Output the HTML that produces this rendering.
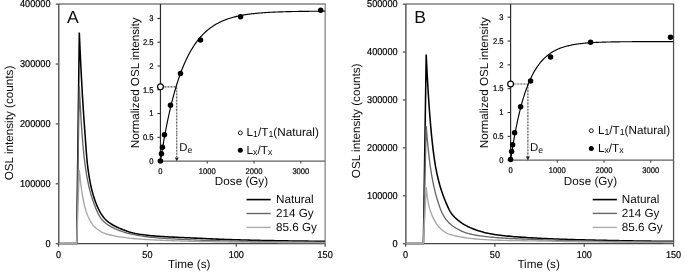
<!DOCTYPE html>
<html><head><meta charset="utf-8"><title>OSL decay curves</title>
<style>html,body{margin:0;padding:0;background:#fff}svg{display:block;text-rendering:geometricPrecision;will-change:transform;transform:translateZ(0)}</style></head>
<body><svg width="685" height="272" viewBox="0 0 685 272">
<defs><filter id="soft" x="0" y="0" width="685" height="272" filterUnits="userSpaceOnUse"><feGaussianBlur stdDeviation="0.3"/></filter></defs>
<g filter="url(#soft)">
<rect width="685" height="272" fill="#fff"/>
<path d="M58.50,4.05 H325.80" fill="none" stroke="#808080" stroke-width="1.6"/>
<path d="M325.15,4.00 V243.50" fill="none" stroke="#858585" stroke-width="1.3"/>
<path d="M58.80,4.00 V243.55 H325.15" fill="none" stroke="#444" stroke-width="1.3"/>
<path d="M55.70,243.65 H58.50" stroke="#555" stroke-width="1.3"/>
<text transform="translate(50.60,246.75) scale(1,1.09)" font-size="9.2" text-anchor="end" font-family="Liberation Sans, sans-serif" fill="#000" stroke="#000" stroke-width="0.2">0</text>
<path d="M55.70,183.78 H58.50" stroke="#555" stroke-width="1.3"/>
<text transform="translate(50.60,186.88) scale(1,1.09)" font-size="9.2" text-anchor="end" font-family="Liberation Sans, sans-serif" fill="#000" stroke="#000" stroke-width="0.2">100000</text>
<path d="M55.70,123.90 H58.50" stroke="#555" stroke-width="1.3"/>
<text transform="translate(50.60,127.00) scale(1,1.09)" font-size="9.2" text-anchor="end" font-family="Liberation Sans, sans-serif" fill="#000" stroke="#000" stroke-width="0.2">200000</text>
<path d="M55.70,64.03 H58.50" stroke="#555" stroke-width="1.3"/>
<text transform="translate(50.60,67.12) scale(1,1.09)" font-size="9.2" text-anchor="end" font-family="Liberation Sans, sans-serif" fill="#000" stroke="#000" stroke-width="0.2">300000</text>
<path d="M55.70,4.15 H58.50" stroke="#555" stroke-width="1.3"/>
<text transform="translate(50.60,7.25) scale(1,1.09)" font-size="9.2" text-anchor="end" font-family="Liberation Sans, sans-serif" fill="#000" stroke="#000" stroke-width="0.2">400000</text>
<path d="M58.50,243.50 V246.70" stroke="#555" stroke-width="1.3"/>
<text transform="translate(58.50,258.00) scale(1,1.09)" font-size="9.1" text-anchor="middle" font-family="Liberation Sans, sans-serif" fill="#000" stroke="#000" stroke-width="0.2">0</text>
<path d="M147.38,243.50 V246.70" stroke="#555" stroke-width="1.3"/>
<text transform="translate(147.38,258.00) scale(1,1.09)" font-size="9.1" text-anchor="middle" font-family="Liberation Sans, sans-serif" fill="#000" stroke="#000" stroke-width="0.2">50</text>
<path d="M236.27,243.50 V246.70" stroke="#555" stroke-width="1.3"/>
<text transform="translate(236.27,258.00) scale(1,1.09)" font-size="9.1" text-anchor="middle" font-family="Liberation Sans, sans-serif" fill="#000" stroke="#000" stroke-width="0.2">100</text>
<path d="M325.15,243.50 V246.70" stroke="#555" stroke-width="1.3"/>
<text transform="translate(325.15,258.00) scale(1,1.09)" font-size="9.1" text-anchor="middle" font-family="Liberation Sans, sans-serif" fill="#000" stroke="#000" stroke-width="0.2">150</text>
<path d="M58.70,243.40 L76.70,243.40 L79.30,32.50 L79.80,43.98 L80.30,54.89 L80.80,65.24 L81.30,75.08 L81.80,84.41 L82.30,93.25 L82.80,101.64 L83.30,109.49 L83.80,116.91 L84.30,124.01 L84.80,130.92 L85.30,137.76 L85.80,144.87 L86.30,151.80 L86.80,158.04 L87.30,163.26 L87.80,167.38 L88.30,171.07 L88.80,174.45 L89.30,177.55 L89.80,180.40 L90.30,183.03 L90.80,185.47 L91.30,187.73 L91.80,189.84 L92.30,191.81 L92.80,193.65 L93.30,195.38 L93.80,197.01 L94.30,198.55 L94.80,200.01 L95.30,201.40 L95.80,202.74 L96.30,204.01 L96.80,205.24 L97.30,206.42 L97.80,207.55 L98.30,208.63 L98.80,209.65 L99.30,210.64 L99.80,211.57 L100.30,212.47 L100.80,213.32 L101.30,214.13 L101.80,214.90 L102.30,215.63 L102.80,216.33 L103.30,216.99 L103.80,217.62 L104.30,218.21 L104.80,218.77 L105.30,219.30 L105.80,219.80 L106.30,220.27 L106.80,220.72 L107.30,221.16 L107.80,221.57 L108.30,221.97 L108.80,222.35 L109.30,222.71 L111.30,224.04 L113.30,225.21 L115.30,226.26 L117.30,227.24 L119.30,228.16 L121.30,229.02 L123.30,229.83 L125.30,230.58 L127.30,231.27 L129.30,231.91 L131.30,232.48 L133.30,233.00 L135.30,233.47 L137.30,233.88 L139.30,234.24 L141.30,234.55 L143.30,234.83 L145.30,235.07 L147.30,235.30 L149.30,235.50 L151.30,235.69 L153.30,235.86 L155.30,236.02 L157.30,236.17 L159.30,236.31 L161.30,236.45 L163.30,236.57 L165.30,236.69 L167.30,236.80 L169.30,236.91 L171.30,237.02 L173.30,237.11 L175.30,237.21 L177.30,237.30 L179.30,237.40 L181.30,237.49 L183.30,237.58 L185.30,237.66 L187.30,237.75 L189.30,237.84 L191.30,237.93 L193.30,238.02 L195.30,238.11 L197.30,238.21 L199.30,238.30 L201.30,238.39 L203.30,238.49 L205.30,238.58 L207.30,238.67 L209.30,238.77 L211.30,238.86 L213.30,238.94 L215.30,239.03 L217.30,239.12 L219.30,239.20 L221.30,239.28 L223.30,239.36 L225.30,239.43 L227.30,239.51 L229.30,239.58 L231.30,239.64 L233.30,239.71 L235.30,239.77 L237.30,239.83 L239.30,239.88 L241.30,239.93 L243.30,239.98 L245.30,240.03 L247.30,240.08 L249.30,240.13 L251.30,240.18 L253.30,240.22 L255.30,240.27 L257.30,240.31 L259.30,240.35 L261.30,240.40 L263.30,240.44 L265.30,240.48 L267.30,240.52 L269.30,240.56 L271.30,240.59 L273.30,240.63 L275.30,240.67 L277.30,240.70 L279.30,240.74 L281.30,240.77 L283.30,240.80 L285.30,240.83 L287.30,240.86 L289.30,240.90 L291.30,240.92 L293.30,240.95 L295.30,240.98 L297.30,241.01 L299.30,241.03 L301.30,241.06 L303.30,241.08 L305.30,241.11 L307.30,241.13 L309.30,241.15 L311.30,241.17 L313.30,241.19 L315.30,241.21 L317.30,241.23 L319.30,241.25 L321.30,241.27 L323.30,241.28 L325.15,241.30" fill="none" stroke="#000000" stroke-width="1.55" stroke-linejoin="miter" stroke-miterlimit="10"/>
<path d="M58.70,243.40 L76.70,243.40 L79.30,86.50 L79.80,96.78 L80.30,106.26 L80.80,114.99 L81.30,123.01 L81.80,130.36 L82.30,137.09 L82.80,143.24 L83.30,148.84 L83.80,153.93 L84.30,158.54 L84.80,162.70 L85.30,166.46 L85.80,169.90 L86.30,173.09 L86.80,176.05 L87.30,178.80 L87.80,181.36 L88.30,183.76 L88.80,186.01 L89.30,188.13 L89.80,190.13 L90.30,192.02 L90.80,193.81 L91.30,195.52 L91.80,197.16 L92.30,198.73 L92.80,200.24 L93.30,201.69 L93.80,203.10 L94.30,204.46 L94.80,205.79 L95.30,207.09 L95.80,208.34 L96.30,209.56 L96.80,210.72 L97.30,211.84 L97.80,212.90 L98.30,213.92 L98.80,214.87 L99.30,215.78 L99.80,216.63 L100.30,217.42 L100.80,218.16 L101.30,218.84 L101.80,219.47 L102.30,220.04 L102.80,220.58 L103.30,221.09 L103.80,221.58 L104.30,222.04 L104.80,222.48 L105.30,222.90 L105.80,223.30 L106.30,223.68 L106.80,224.05 L107.30,224.40 L107.80,224.74 L108.30,225.07 L108.80,225.39 L109.30,225.69 L111.30,226.84 L113.30,227.88 L115.30,228.84 L117.30,229.70 L119.30,230.50 L121.30,231.22 L123.30,231.88 L125.30,232.49 L127.30,233.05 L129.30,233.56 L131.30,234.03 L133.30,234.46 L135.30,234.87 L137.30,235.24 L139.30,235.60 L141.30,235.93 L143.30,236.23 L145.30,236.52 L147.30,236.78 L149.30,237.02 L151.30,237.24 L153.30,237.44 L155.30,237.63 L157.30,237.80 L159.30,237.96 L161.30,238.12 L163.30,238.27 L165.30,238.41 L167.30,238.55 L169.30,238.68 L171.30,238.81 L173.30,238.93 L175.30,239.05 L177.30,239.16 L179.30,239.27 L181.30,239.38 L183.30,239.48 L185.30,239.57 L187.30,239.67 L189.30,239.75 L191.30,239.84 L193.30,239.92 L195.30,240.00 L197.30,240.08 L199.30,240.16 L201.30,240.23 L203.30,240.30 L205.30,240.36 L207.30,240.43 L209.30,240.49 L211.30,240.55 L213.30,240.60 L215.30,240.66 L217.30,240.71 L219.30,240.76 L221.30,240.81 L223.30,240.86 L225.30,240.91 L227.30,240.95 L229.30,240.99 L231.30,241.04 L233.30,241.08 L235.30,241.11 L237.30,241.15 L239.30,241.19 L241.30,241.22 L243.30,241.26 L245.30,241.29 L247.30,241.32 L249.30,241.35 L251.30,241.39 L253.30,241.42 L255.30,241.45 L257.30,241.48 L259.30,241.51 L261.30,241.53 L263.30,241.56 L265.30,241.59 L267.30,241.61 L269.30,241.64 L271.30,241.66 L273.30,241.69 L275.30,241.71 L277.30,241.73 L279.30,241.76 L281.30,241.78 L283.30,241.80 L285.30,241.82 L287.30,241.84 L289.30,241.86 L291.30,241.88 L293.30,241.90 L295.30,241.91 L297.30,241.93 L299.30,241.95 L301.30,241.96 L303.30,241.98 L305.30,241.99 L307.30,242.00 L309.30,242.02 L311.30,242.03 L313.30,242.04 L315.30,242.05 L317.30,242.06 L319.30,242.07 L321.30,242.08 L323.30,242.09 L325.15,242.10" fill="none" stroke="#666666" stroke-width="1.35" stroke-linejoin="miter" stroke-miterlimit="10"/>
<path d="M58.70,243.40 L76.70,243.40 L79.30,170.10 L79.80,175.13 L80.30,179.72 L80.80,183.91 L81.30,187.74 L81.80,191.23 L82.30,194.42 L82.80,197.32 L83.30,199.97 L83.80,202.39 L84.30,204.58 L84.80,206.59 L85.30,208.44 L85.80,210.15 L86.30,211.72 L86.80,213.18 L87.30,214.54 L87.80,215.80 L88.30,216.98 L88.80,218.08 L89.30,219.11 L89.80,220.08 L90.30,221.00 L90.80,221.87 L91.30,222.69 L91.80,223.47 L92.30,224.19 L92.80,224.87 L93.30,225.49 L93.80,226.07 L94.30,226.61 L94.80,227.09 L95.30,227.55 L95.80,227.99 L96.30,228.42 L96.80,228.82 L97.30,229.21 L97.80,229.58 L98.30,229.94 L98.80,230.28 L99.30,230.61 L99.80,230.92 L100.30,231.22 L100.80,231.51 L101.30,231.79 L101.80,232.05 L102.30,232.30 L102.80,232.54 L103.30,232.77 L103.80,232.99 L104.30,233.19 L104.80,233.39 L105.30,233.58 L105.80,233.75 L106.30,233.92 L106.80,234.08 L107.30,234.23 L107.80,234.37 L108.30,234.51 L108.80,234.64 L109.30,234.77 L111.30,235.25 L113.30,235.69 L115.30,236.10 L117.30,236.47 L119.30,236.80 L121.30,237.11 L123.30,237.40 L125.30,237.66 L127.30,237.90 L129.30,238.13 L131.30,238.34 L133.30,238.53 L135.30,238.71 L137.30,238.88 L139.30,239.04 L141.30,239.19 L143.30,239.33 L145.30,239.46 L147.30,239.58 L149.30,239.70 L151.30,239.81 L153.30,239.91 L155.30,240.01 L157.30,240.11 L159.30,240.20 L161.30,240.29 L163.30,240.38 L165.30,240.46 L167.30,240.54 L169.30,240.62 L171.30,240.69 L173.30,240.76 L175.30,240.83 L177.30,240.89 L179.30,240.95 L181.30,241.01 L183.30,241.07 L185.30,241.13 L187.30,241.18 L189.30,241.23 L191.30,241.28 L193.30,241.33 L195.30,241.38 L197.30,241.42 L199.30,241.47 L201.30,241.51 L203.30,241.55 L205.30,241.59 L207.30,241.63 L209.30,241.66 L211.30,241.70 L213.30,241.73 L215.30,241.76 L217.30,241.80 L219.30,241.83 L221.30,241.86 L223.30,241.89 L225.30,241.92 L227.30,241.94 L229.30,241.97 L231.30,242.00 L233.30,242.02 L235.30,242.05 L237.30,242.07 L239.30,242.09 L241.30,242.11 L243.30,242.14 L245.30,242.16 L247.30,242.18 L249.30,242.20 L251.30,242.22 L253.30,242.24 L255.30,242.26 L257.30,242.28 L259.30,242.30 L261.30,242.32 L263.30,242.33 L265.30,242.35 L267.30,242.37 L269.30,242.38 L271.30,242.40 L273.30,242.42 L275.30,242.43 L277.30,242.45 L279.30,242.46 L281.30,242.48 L283.30,242.49 L285.30,242.50 L287.30,242.52 L289.30,242.53 L291.30,242.54 L293.30,242.55 L295.30,242.57 L297.30,242.58 L299.30,242.59 L301.30,242.60 L303.30,242.61 L305.30,242.62 L307.30,242.63 L309.30,242.64 L311.30,242.65 L313.30,242.66 L315.30,242.66 L317.30,242.67 L319.30,242.68 L321.30,242.69 L323.30,242.69 L325.15,242.70" fill="none" stroke="#a6a6a6" stroke-width="1.35" stroke-linejoin="miter" stroke-miterlimit="10"/>
<text x="189.20" y="268.00" font-size="11.7" text-anchor="middle" font-family="Liberation Sans, sans-serif" fill="#0a0a0a">Time (s)</text>
<text transform="translate(12.60,123.00) rotate(-90)" font-size="11.7" text-anchor="middle" font-family="Liberation Sans, sans-serif" fill="#0a0a0a">OSL intensity (counts)</text>
<text x="72.90" y="23.30" font-size="17.6" text-anchor="middle" font-family="Liberation Sans, sans-serif" fill="#0a0a0a">A</text>
<path d="M246.50,199.60 H270.70" stroke="#000" stroke-width="1.6"/>
<text x="276.00" y="202.70" font-size="11.7" font-family="Liberation Sans, sans-serif" fill="#0a0a0a">Natural</text>
<path d="M246.50,213.50 H270.70" stroke="#666" stroke-width="1.4"/>
<text x="276.00" y="216.60" font-size="11.7" font-family="Liberation Sans, sans-serif" fill="#0a0a0a">214 Gy</text>
<path d="M246.50,227.40 H270.70" stroke="#aaa" stroke-width="1.4"/>
<text x="276.00" y="230.50" font-size="11.7" font-family="Liberation Sans, sans-serif" fill="#0a0a0a">85.6 Gy</text>
<path d="M160.45,4.00 V161.10" stroke="#2a2a2a" stroke-width="1.2"/>
<path d="M160.45,161.10 H325.15" stroke="#606060" stroke-width="1.3"/>
<path d="M157.45,161.10 H160.45" stroke="#2a2a2a" stroke-width="1.05"/>
<text transform="translate(153.45,163.85) scale(1,1.09)" font-size="7.6" text-anchor="end" font-family="Liberation Sans, sans-serif" fill="#000" stroke="#000" stroke-width="0.2">0</text>
<path d="M157.45,137.32 H160.45" stroke="#2a2a2a" stroke-width="1.05"/>
<text transform="translate(153.45,140.07) scale(1,1.09)" font-size="7.6" text-anchor="end" font-family="Liberation Sans, sans-serif" fill="#000" stroke="#000" stroke-width="0.2">0.5</text>
<path d="M157.45,113.55 H160.45" stroke="#2a2a2a" stroke-width="1.05"/>
<text transform="translate(153.45,116.30) scale(1,1.09)" font-size="7.6" text-anchor="end" font-family="Liberation Sans, sans-serif" fill="#000" stroke="#000" stroke-width="0.2">1</text>
<path d="M157.45,89.78 H160.45" stroke="#2a2a2a" stroke-width="1.05"/>
<text transform="translate(153.45,92.53) scale(1,1.09)" font-size="7.6" text-anchor="end" font-family="Liberation Sans, sans-serif" fill="#000" stroke="#000" stroke-width="0.2">1.5</text>
<path d="M157.45,66.00 H160.45" stroke="#2a2a2a" stroke-width="1.05"/>
<text transform="translate(153.45,68.75) scale(1,1.09)" font-size="7.6" text-anchor="end" font-family="Liberation Sans, sans-serif" fill="#000" stroke="#000" stroke-width="0.2">2</text>
<path d="M157.45,42.22 H160.45" stroke="#2a2a2a" stroke-width="1.05"/>
<text transform="translate(153.45,44.97) scale(1,1.09)" font-size="7.6" text-anchor="end" font-family="Liberation Sans, sans-serif" fill="#000" stroke="#000" stroke-width="0.2">2.5</text>
<path d="M157.45,18.45 H160.45" stroke="#2a2a2a" stroke-width="1.05"/>
<text transform="translate(153.45,21.20) scale(1,1.09)" font-size="7.6" text-anchor="end" font-family="Liberation Sans, sans-serif" fill="#000" stroke="#000" stroke-width="0.2">3</text>
<text transform="translate(160.45,173.55) scale(1,1.09)" font-size="7.6" text-anchor="middle" font-family="Liberation Sans, sans-serif" fill="#000" stroke="#000" stroke-width="0.2">0</text>
<path d="M207.25,161.10 V163.60" stroke="#444" stroke-width="1.1"/>
<text transform="translate(207.25,173.55) scale(1,1.09)" font-size="7.6" text-anchor="middle" font-family="Liberation Sans, sans-serif" fill="#000" stroke="#000" stroke-width="0.2">1000</text>
<path d="M254.05,161.10 V163.60" stroke="#444" stroke-width="1.1"/>
<text transform="translate(254.05,173.55) scale(1,1.09)" font-size="7.6" text-anchor="middle" font-family="Liberation Sans, sans-serif" fill="#000" stroke="#000" stroke-width="0.2">2000</text>
<path d="M300.85,161.10 V163.60" stroke="#444" stroke-width="1.1"/>
<text transform="translate(300.85,173.55) scale(1,1.09)" font-size="7.6" text-anchor="middle" font-family="Liberation Sans, sans-serif" fill="#000" stroke="#000" stroke-width="0.2">3000</text>
<path d="M160.45,161.10 L161.28,155.76 L162.11,150.61 L162.93,145.65 L163.76,140.86 L164.59,136.24 L165.42,131.78 L166.24,127.49 L167.07,123.34 L167.90,119.35 L168.73,115.50 L169.55,111.78 L170.38,108.20 L171.21,104.74 L172.04,101.41 L172.86,98.19 L173.69,95.09 L174.52,92.10 L175.35,89.22 L176.18,86.44 L177.00,83.75 L177.83,81.17 L178.66,78.67 L179.49,76.27 L180.31,73.95 L181.14,71.71 L181.97,69.55 L182.80,67.47 L183.62,65.46 L184.45,63.53 L185.28,61.66 L186.11,59.86 L186.93,58.13 L187.76,56.45 L188.59,54.84 L189.42,53.28 L190.24,51.78 L191.07,50.33 L191.90,48.93 L192.73,47.58 L193.56,46.29 L194.38,45.03 L195.21,43.82 L196.04,42.66 L196.87,41.54 L197.69,40.45 L198.52,39.41 L199.35,38.40 L200.18,37.43 L201.00,36.49 L201.83,35.58 L202.66,34.71 L203.49,33.87 L204.31,33.06 L205.14,32.28 L205.97,31.52 L206.80,30.80 L207.63,30.09 L208.45,29.42 L209.28,28.76 L210.11,28.13 L210.94,27.53 L211.76,26.94 L212.59,26.38 L213.42,25.83 L214.25,25.31 L215.07,24.80 L215.90,24.31 L216.73,23.84 L217.56,23.39 L218.38,22.95 L219.21,22.53 L220.04,22.12 L220.87,21.73 L221.70,21.35 L222.52,20.98 L223.35,20.63 L224.18,20.29 L225.01,19.96 L225.83,19.65 L226.66,19.34 L227.49,19.05 L228.32,18.76 L229.14,18.49 L229.97,18.23 L230.80,17.97 L231.63,17.73 L232.45,17.49 L233.28,17.26 L234.11,17.04 L234.94,16.83 L235.77,16.63 L236.59,16.43 L237.42,16.24 L238.25,16.05 L239.08,15.88 L239.90,15.71 L240.73,15.54 L241.56,15.38 L242.39,15.23 L243.21,15.08 L244.04,14.94 L244.87,14.80 L245.70,14.67 L246.52,14.54 L247.35,14.42 L248.18,14.30 L249.01,14.19 L249.83,14.07 L250.66,13.97 L251.49,13.87 L252.32,13.77 L253.15,13.67 L253.97,13.58 L254.80,13.49 L255.63,13.40 L256.46,13.32 L257.28,13.24 L258.11,13.16 L258.94,13.09 L259.77,13.02 L260.59,12.95 L261.42,12.88 L262.25,12.82 L263.08,12.76 L263.90,12.70 L264.73,12.64 L265.56,12.58 L266.39,12.53 L267.22,12.48 L268.04,12.43 L268.87,12.38 L269.70,12.33 L270.53,12.29 L271.35,12.25 L272.18,12.21 L273.01,12.17 L273.84,12.13 L274.66,12.09 L275.49,12.05 L276.32,12.02 L277.15,11.99 L277.97,11.95 L278.80,11.92 L279.63,11.89 L280.46,11.86 L281.29,11.84 L282.11,11.81 L282.94,11.78 L283.77,11.76 L284.60,11.73 L285.42,11.71 L286.25,11.69 L287.08,11.67 L287.91,11.65 L288.73,11.63 L289.56,11.61 L290.39,11.59 L291.22,11.57 L292.04,11.55 L292.87,11.53 L293.70,11.52 L294.53,11.50 L295.36,11.49 L296.18,11.47 L297.01,11.46 L297.84,11.45 L298.67,11.43 L299.49,11.42 L300.32,11.41 L301.15,11.40 L301.98,11.39 L302.80,11.37 L303.63,11.36 L304.46,11.35 L305.29,11.34 L306.11,11.33 L306.94,11.33 L307.77,11.32 L308.60,11.31 L309.42,11.30 L310.25,11.29 L311.08,11.28 L311.91,11.28 L312.74,11.27 L313.56,11.26 L314.39,11.26 L315.22,11.25 L316.05,11.24 L316.87,11.24 L317.70,11.23 L318.53,11.23 L319.36,11.22 L320.18,11.22 L321.01,11.21 L321.84,11.21 L322.67,11.20 L323.49,11.20 L324.32,11.19 L325.15,11.19" fill="none" stroke="#000" stroke-width="1.15"/>
<path d="M163.75,86.83 H176.76" stroke="#111" stroke-width="1.1" stroke-dasharray="0.75,0.72"/>
<path d="M176.76,86.83 V157.60" stroke="#111" stroke-width="1.1" stroke-dasharray="0.75,0.72"/>
<path d="M176.76,161.30 l-2.0,-3.8 h4.0 z" fill="#222"/>
<circle cx="160.45" cy="161.10" r="2.75" fill="#000"/>
<circle cx="161.45" cy="153.73" r="2.75" fill="#000"/>
<circle cx="162.45" cy="147.31" r="2.75" fill="#000"/>
<circle cx="164.46" cy="134.71" r="2.75" fill="#000"/>
<circle cx="170.47" cy="105.23" r="2.75" fill="#000"/>
<circle cx="180.48" cy="73.61" r="2.75" fill="#000"/>
<circle cx="200.51" cy="40.09" r="2.75" fill="#000"/>
<circle cx="240.57" cy="16.79" r="2.75" fill="#000"/>
<circle cx="320.69" cy="10.37" r="2.75" fill="#000"/>
<circle cx="160.45" cy="86.83" r="2.9" fill="#fff" stroke="#000" stroke-width="1.2"/>
<text x="179.20" y="151.30" font-size="11.4" font-family="Liberation Sans, sans-serif" fill="#0a0a0a">D<tspan font-size="8.8" dy="1.3">e</tspan></text>
<text x="241.50" y="185.20" font-size="11.7" text-anchor="middle" font-family="Liberation Sans, sans-serif" fill="#0a0a0a">Dose (Gy)</text>
<text transform="translate(138.60,82.80) rotate(-90)" font-size="11.65" text-anchor="middle" font-family="Liberation Sans, sans-serif" fill="#0a0a0a">Normalized OSL intensity</text>
<circle cx="240.30" cy="132.90" r="1.95" fill="#fff" stroke="#000" stroke-width="0.9"/>
<circle cx="240.30" cy="150.30" r="2.5" fill="#000"/>
<text x="246.60" y="136.40" font-size="11.7" font-family="Liberation Sans, sans-serif" fill="#0a0a0a">L<tspan font-size="8.8" dy="0.9">1</tspan><tspan dy="-0.9">/T</tspan><tspan font-size="8.8" dy="0.9">1</tspan><tspan dy="-0.9">(Natural)</tspan></text>
<text x="246.60" y="154.30" font-size="11.7" font-family="Liberation Sans, sans-serif" fill="#0a0a0a">L<tspan font-size="8.8" dy="0.9">x</tspan><tspan dy="-0.9">/T</tspan><tspan font-size="8.8" dy="0.9">x</tspan></text>
<path d="M405.60,4.05 H674.20" fill="none" stroke="#808080" stroke-width="1.6"/>
<path d="M673.55,4.00 V243.50" fill="none" stroke="#555" stroke-width="1.3"/>
<path d="M405.90,4.00 V243.55 H673.55" fill="none" stroke="#444" stroke-width="1.3"/>
<path d="M402.80,243.65 H405.60" stroke="#555" stroke-width="1.3"/>
<text transform="translate(397.70,246.75) scale(1,1.09)" font-size="9.2" text-anchor="end" font-family="Liberation Sans, sans-serif" fill="#000" stroke="#000" stroke-width="0.2">0</text>
<path d="M402.80,195.75 H405.60" stroke="#555" stroke-width="1.3"/>
<text transform="translate(397.70,198.85) scale(1,1.09)" font-size="9.2" text-anchor="end" font-family="Liberation Sans, sans-serif" fill="#000" stroke="#000" stroke-width="0.2">100000</text>
<path d="M402.80,147.85 H405.60" stroke="#555" stroke-width="1.3"/>
<text transform="translate(397.70,150.95) scale(1,1.09)" font-size="9.2" text-anchor="end" font-family="Liberation Sans, sans-serif" fill="#000" stroke="#000" stroke-width="0.2">200000</text>
<path d="M402.80,99.95 H405.60" stroke="#555" stroke-width="1.3"/>
<text transform="translate(397.70,103.05) scale(1,1.09)" font-size="9.2" text-anchor="end" font-family="Liberation Sans, sans-serif" fill="#000" stroke="#000" stroke-width="0.2">300000</text>
<path d="M402.80,52.05 H405.60" stroke="#555" stroke-width="1.3"/>
<text transform="translate(397.70,55.15) scale(1,1.09)" font-size="9.2" text-anchor="end" font-family="Liberation Sans, sans-serif" fill="#000" stroke="#000" stroke-width="0.2">400000</text>
<path d="M402.80,4.15 H405.60" stroke="#555" stroke-width="1.3"/>
<text transform="translate(397.70,7.25) scale(1,1.09)" font-size="9.2" text-anchor="end" font-family="Liberation Sans, sans-serif" fill="#000" stroke="#000" stroke-width="0.2">500000</text>
<path d="M405.60,243.50 V246.70" stroke="#555" stroke-width="1.3"/>
<text transform="translate(405.60,258.00) scale(1,1.09)" font-size="9.1" text-anchor="middle" font-family="Liberation Sans, sans-serif" fill="#000" stroke="#000" stroke-width="0.2">0</text>
<path d="M494.92,243.50 V246.70" stroke="#555" stroke-width="1.3"/>
<text transform="translate(494.92,258.00) scale(1,1.09)" font-size="9.1" text-anchor="middle" font-family="Liberation Sans, sans-serif" fill="#000" stroke="#000" stroke-width="0.2">50</text>
<path d="M584.23,243.50 V246.70" stroke="#555" stroke-width="1.3"/>
<text transform="translate(584.23,258.00) scale(1,1.09)" font-size="9.1" text-anchor="middle" font-family="Liberation Sans, sans-serif" fill="#000" stroke="#000" stroke-width="0.2">100</text>
<path d="M673.55,243.50 V246.70" stroke="#555" stroke-width="1.3"/>
<text transform="translate(673.55,258.00) scale(1,1.09)" font-size="9.1" text-anchor="middle" font-family="Liberation Sans, sans-serif" fill="#000" stroke="#000" stroke-width="0.2">150</text>
<path d="M405.40,243.40 L423.40,243.40 L426.20,54.60 L426.70,65.06 L427.20,74.79 L427.70,83.83 L428.20,92.23 L428.70,100.04 L429.20,107.30 L429.70,114.05 L430.20,120.31 L430.70,126.13 L431.20,131.60 L431.70,136.76 L432.20,141.61 L432.70,146.15 L433.20,150.39 L433.70,154.33 L434.20,157.97 L434.70,161.33 L435.20,164.42 L435.70,167.26 L436.20,169.92 L436.70,172.43 L437.20,174.79 L437.70,177.03 L438.20,179.14 L438.70,181.15 L439.20,183.05 L439.70,184.87 L440.20,186.60 L440.70,188.26 L441.20,189.85 L441.70,191.38 L442.20,192.85 L442.70,194.27 L443.20,195.65 L443.70,196.98 L444.20,198.28 L444.70,199.54 L445.20,200.77 L445.70,201.98 L446.20,203.16 L446.70,204.32 L447.20,205.45 L447.70,206.58 L448.20,207.69 L448.70,208.76 L449.20,209.78 L449.70,210.73 L450.20,211.61 L450.70,212.40 L451.20,213.12 L451.70,213.81 L452.20,214.45 L452.70,215.06 L453.20,215.65 L453.70,216.20 L454.20,216.73 L454.70,217.24 L455.20,217.72 L455.70,218.19 L456.20,218.65 L458.20,220.37 L460.20,221.92 L462.20,223.31 L464.20,224.56 L466.20,225.68 L468.20,226.68 L470.20,227.59 L472.20,228.43 L474.20,229.22 L476.20,229.96 L478.20,230.65 L480.20,231.28 L482.20,231.87 L484.20,232.40 L486.20,232.89 L488.20,233.34 L490.20,233.74 L492.20,234.10 L494.20,234.42 L496.20,234.71 L498.20,234.98 L500.20,235.23 L502.20,235.47 L504.20,235.70 L506.20,235.91 L508.20,236.11 L510.20,236.30 L512.20,236.48 L514.20,236.65 L516.20,236.82 L518.20,236.97 L520.20,237.12 L522.20,237.26 L524.20,237.39 L526.20,237.52 L528.20,237.65 L530.20,237.77 L532.20,237.88 L534.20,237.99 L536.20,238.10 L538.20,238.21 L540.20,238.31 L542.20,238.41 L544.20,238.50 L546.20,238.60 L548.20,238.69 L550.20,238.77 L552.20,238.85 L554.20,238.93 L556.20,239.01 L558.20,239.09 L560.20,239.16 L562.20,239.23 L564.20,239.30 L566.20,239.36 L568.20,239.43 L570.20,239.49 L572.20,239.55 L574.20,239.61 L576.20,239.66 L578.20,239.72 L580.20,239.77 L582.20,239.83 L584.20,239.88 L586.20,239.93 L588.20,239.98 L590.20,240.03 L592.20,240.08 L594.20,240.12 L596.20,240.17 L598.20,240.22 L600.20,240.26 L602.20,240.30 L604.20,240.35 L606.20,240.39 L608.20,240.43 L610.20,240.47 L612.20,240.51 L614.20,240.55 L616.20,240.59 L618.20,240.63 L620.20,240.66 L622.20,240.70 L624.20,240.74 L626.20,240.77 L628.20,240.80 L630.20,240.84 L632.20,240.87 L634.20,240.90 L636.20,240.93 L638.20,240.96 L640.20,240.99 L642.20,241.02 L644.20,241.05 L646.20,241.08 L648.20,241.11 L650.20,241.13 L652.20,241.16 L654.20,241.18 L656.20,241.21 L658.20,241.23 L660.20,241.26 L662.20,241.28 L664.20,241.30 L666.20,241.32 L668.20,241.35 L670.20,241.37 L672.20,241.39 L673.55,241.40" fill="none" stroke="#000000" stroke-width="1.55" stroke-linejoin="miter" stroke-miterlimit="10"/>
<path d="M405.40,243.40 L423.40,243.40 L426.20,126.00 L426.70,132.30 L427.20,138.20 L427.70,143.71 L428.20,148.83 L428.70,153.58 L429.20,157.97 L429.70,162.01 L430.20,165.72 L430.70,169.15 L431.20,172.36 L431.70,175.36 L432.20,178.19 L432.70,180.84 L433.20,183.35 L433.70,185.72 L434.20,187.96 L434.70,190.10 L435.20,192.13 L435.70,194.06 L436.20,195.91 L436.70,197.68 L437.20,199.38 L437.70,201.01 L438.20,202.59 L438.70,204.11 L439.20,205.58 L439.70,207.00 L440.20,208.36 L440.70,209.65 L441.20,210.85 L441.70,211.98 L442.20,213.02 L442.70,214.00 L443.20,214.94 L443.70,215.83 L444.20,216.67 L444.70,217.46 L445.20,218.21 L445.70,218.91 L446.20,219.57 L446.70,220.20 L447.20,220.79 L447.70,221.36 L448.20,221.91 L448.70,222.43 L449.20,222.94 L449.70,223.42 L450.20,223.88 L450.70,224.32 L451.20,224.75 L451.70,225.16 L452.20,225.55 L452.70,225.92 L453.20,226.29 L453.70,226.63 L454.20,226.97 L454.70,227.29 L455.20,227.61 L455.70,227.92 L456.20,228.22 L458.20,229.35 L460.20,230.37 L462.20,231.28 L464.20,232.09 L466.20,232.81 L468.20,233.44 L470.20,233.98 L472.20,234.44 L474.20,234.85 L476.20,235.22 L478.20,235.56 L480.20,235.87 L482.20,236.16 L484.20,236.42 L486.20,236.66 L488.20,236.87 L490.20,237.08 L492.20,237.26 L494.20,237.43 L496.20,237.59 L498.20,237.74 L500.20,237.88 L502.20,238.02 L504.20,238.14 L506.20,238.26 L508.20,238.37 L510.20,238.48 L512.20,238.58 L514.20,238.67 L516.20,238.77 L518.20,238.85 L520.20,238.94 L522.20,239.02 L524.20,239.10 L526.20,239.18 L528.20,239.26 L530.20,239.34 L532.20,239.41 L534.20,239.49 L536.20,239.56 L538.20,239.63 L540.20,239.71 L542.20,239.78 L544.20,239.85 L546.20,239.92 L548.20,240.00 L550.20,240.06 L552.20,240.13 L554.20,240.20 L556.20,240.26 L558.20,240.33 L560.20,240.39 L562.20,240.45 L564.20,240.51 L566.20,240.57 L568.20,240.62 L570.20,240.67 L572.20,240.72 L574.20,240.77 L576.20,240.82 L578.20,240.86 L580.20,240.91 L582.20,240.95 L584.20,240.99 L586.20,241.02 L588.20,241.06 L590.20,241.09 L592.20,241.13 L594.20,241.16 L596.20,241.19 L598.20,241.23 L600.20,241.26 L602.20,241.29 L604.20,241.32 L606.20,241.35 L608.20,241.38 L610.20,241.41 L612.20,241.43 L614.20,241.46 L616.20,241.49 L618.20,241.51 L620.20,241.54 L622.20,241.56 L624.20,241.59 L626.20,241.61 L628.20,241.63 L630.20,241.66 L632.20,241.68 L634.20,241.70 L636.20,241.72 L638.20,241.74 L640.20,241.76 L642.20,241.78 L644.20,241.80 L646.20,241.82 L648.20,241.83 L650.20,241.85 L652.20,241.86 L654.20,241.88 L656.20,241.89 L658.20,241.91 L660.20,241.92 L662.20,241.94 L664.20,241.95 L666.20,241.96 L668.20,241.97 L670.20,241.98 L672.20,241.99 L673.55,242.00" fill="none" stroke="#666666" stroke-width="1.35" stroke-linejoin="miter" stroke-miterlimit="10"/>
<path d="M405.40,243.40 L423.40,243.40 L426.20,187.00 L426.70,191.82 L427.20,195.96 L427.70,199.50 L428.20,202.49 L428.70,205.00 L429.20,207.08 L429.70,208.84 L430.20,210.40 L430.70,211.84 L431.20,213.22 L431.70,214.51 L432.20,215.72 L432.70,216.85 L433.20,217.92 L433.70,218.93 L434.20,219.89 L434.70,220.82 L435.20,221.71 L435.70,222.57 L436.20,223.39 L436.70,224.16 L437.20,224.89 L437.70,225.56 L438.20,226.19 L438.70,226.78 L439.20,227.31 L439.70,227.82 L440.20,228.31 L440.70,228.78 L441.20,229.24 L441.70,229.67 L442.20,230.09 L442.70,230.49 L443.20,230.87 L443.70,231.24 L444.20,231.59 L444.70,231.91 L445.20,232.23 L445.70,232.52 L446.20,232.80 L446.70,233.06 L447.20,233.31 L447.70,233.54 L448.20,233.75 L448.70,233.95 L449.20,234.14 L449.70,234.31 L450.20,234.46 L450.70,234.61 L451.20,234.76 L451.70,234.90 L452.20,235.04 L452.70,235.17 L453.20,235.31 L453.70,235.43 L454.20,235.56 L454.70,235.68 L455.20,235.80 L455.70,235.92 L456.20,236.03 L458.20,236.47 L460.20,236.86 L462.20,237.22 L464.20,237.54 L466.20,237.84 L468.20,238.11 L470.20,238.36 L472.20,238.59 L474.20,238.79 L476.20,238.98 L478.20,239.15 L480.20,239.31 L482.20,239.45 L484.20,239.58 L486.20,239.70 L488.20,239.81 L490.20,239.91 L492.20,239.99 L494.20,240.07 L496.20,240.14 L498.20,240.21 L500.20,240.26 L502.20,240.32 L504.20,240.37 L506.20,240.42 L508.20,240.46 L510.20,240.50 L512.20,240.54 L514.20,240.57 L516.20,240.61 L518.20,240.64 L520.20,240.67 L522.20,240.71 L524.20,240.74 L526.20,240.77 L528.20,240.80 L530.20,240.83 L532.20,240.86 L534.20,240.90 L536.20,240.93 L538.20,240.97 L540.20,241.00 L542.20,241.04 L544.20,241.08 L546.20,241.12 L548.20,241.16 L550.20,241.20 L552.20,241.24 L554.20,241.28 L556.20,241.32 L558.20,241.36 L560.20,241.40 L562.20,241.44 L564.20,241.48 L566.20,241.51 L568.20,241.55 L570.20,241.58 L572.20,241.62 L574.20,241.65 L576.20,241.68 L578.20,241.71 L580.20,241.74 L582.20,241.76 L584.20,241.79 L586.20,241.81 L588.20,241.84 L590.20,241.86 L592.20,241.88 L594.20,241.91 L596.20,241.93 L598.20,241.95 L600.20,241.97 L602.20,241.99 L604.20,242.01 L606.20,242.03 L608.20,242.05 L610.20,242.07 L612.20,242.09 L614.20,242.11 L616.20,242.13 L618.20,242.15 L620.20,242.16 L622.20,242.18 L624.20,242.20 L626.20,242.21 L628.20,242.23 L630.20,242.25 L632.20,242.26 L634.20,242.28 L636.20,242.29 L638.20,242.30 L640.20,242.32 L642.20,242.33 L644.20,242.35 L646.20,242.36 L648.20,242.37 L650.20,242.38 L652.20,242.39 L654.20,242.41 L656.20,242.42 L658.20,242.43 L660.20,242.44 L662.20,242.45 L664.20,242.46 L666.20,242.47 L668.20,242.48 L670.20,242.49 L672.20,242.49 L673.55,242.50" fill="none" stroke="#a6a6a6" stroke-width="1.35" stroke-linejoin="miter" stroke-miterlimit="10"/>
<text x="538.60" y="268.00" font-size="11.7" text-anchor="middle" font-family="Liberation Sans, sans-serif" fill="#0a0a0a">Time (s)</text>
<text transform="translate(359.70,120.90) rotate(-90)" font-size="11.7" text-anchor="middle" font-family="Liberation Sans, sans-serif" fill="#0a0a0a">OSL intensity (counts)</text>
<text x="420.10" y="23.40" font-size="17.6" text-anchor="middle" font-family="Liberation Sans, sans-serif" fill="#0a0a0a">B</text>
<path d="M592.70,199.60 H616.90" stroke="#000" stroke-width="1.6"/>
<text x="621.70" y="202.70" font-size="11.7" font-family="Liberation Sans, sans-serif" fill="#0a0a0a">Natural</text>
<path d="M592.70,213.40 H616.90" stroke="#666" stroke-width="1.4"/>
<text x="621.70" y="216.50" font-size="11.7" font-family="Liberation Sans, sans-serif" fill="#0a0a0a">214 Gy</text>
<path d="M592.70,227.40 H616.90" stroke="#aaa" stroke-width="1.4"/>
<text x="621.70" y="230.50" font-size="11.7" font-family="Liberation Sans, sans-serif" fill="#0a0a0a">85.6 Gy</text>
<path d="M510.60,4.00 V160.20" stroke="#2a2a2a" stroke-width="1.2"/>
<path d="M510.60,160.20 H673.55" stroke="#606060" stroke-width="1.3"/>
<path d="M507.60,160.20 H510.60" stroke="#2a2a2a" stroke-width="1.05"/>
<text transform="translate(503.60,162.95) scale(1,1.09)" font-size="7.6" text-anchor="end" font-family="Liberation Sans, sans-serif" fill="#000" stroke="#000" stroke-width="0.2">0</text>
<path d="M507.60,136.36 H510.60" stroke="#2a2a2a" stroke-width="1.05"/>
<text transform="translate(503.60,139.11) scale(1,1.09)" font-size="7.6" text-anchor="end" font-family="Liberation Sans, sans-serif" fill="#000" stroke="#000" stroke-width="0.2">0.5</text>
<path d="M507.60,112.53 H510.60" stroke="#2a2a2a" stroke-width="1.05"/>
<text transform="translate(503.60,115.28) scale(1,1.09)" font-size="7.6" text-anchor="end" font-family="Liberation Sans, sans-serif" fill="#000" stroke="#000" stroke-width="0.2">1</text>
<path d="M507.60,88.69 H510.60" stroke="#2a2a2a" stroke-width="1.05"/>
<text transform="translate(503.60,91.44) scale(1,1.09)" font-size="7.6" text-anchor="end" font-family="Liberation Sans, sans-serif" fill="#000" stroke="#000" stroke-width="0.2">1.5</text>
<path d="M507.60,64.86 H510.60" stroke="#2a2a2a" stroke-width="1.05"/>
<text transform="translate(503.60,67.61) scale(1,1.09)" font-size="7.6" text-anchor="end" font-family="Liberation Sans, sans-serif" fill="#000" stroke="#000" stroke-width="0.2">2</text>
<path d="M507.60,41.02 H510.60" stroke="#2a2a2a" stroke-width="1.05"/>
<text transform="translate(503.60,43.77) scale(1,1.09)" font-size="7.6" text-anchor="end" font-family="Liberation Sans, sans-serif" fill="#000" stroke="#000" stroke-width="0.2">2.5</text>
<path d="M507.60,17.19 H510.60" stroke="#2a2a2a" stroke-width="1.05"/>
<text transform="translate(503.60,19.94) scale(1,1.09)" font-size="7.6" text-anchor="end" font-family="Liberation Sans, sans-serif" fill="#000" stroke="#000" stroke-width="0.2">3</text>
<text transform="translate(510.60,172.65) scale(1,1.09)" font-size="7.6" text-anchor="middle" font-family="Liberation Sans, sans-serif" fill="#000" stroke="#000" stroke-width="0.2">0</text>
<path d="M557.30,160.20 V162.70" stroke="#444" stroke-width="1.1"/>
<text transform="translate(557.30,172.65) scale(1,1.09)" font-size="7.6" text-anchor="middle" font-family="Liberation Sans, sans-serif" fill="#000" stroke="#000" stroke-width="0.2">1000</text>
<path d="M604.00,160.20 V162.70" stroke="#444" stroke-width="1.1"/>
<text transform="translate(604.00,172.65) scale(1,1.09)" font-size="7.6" text-anchor="middle" font-family="Liberation Sans, sans-serif" fill="#000" stroke="#000" stroke-width="0.2">2000</text>
<path d="M650.70,160.20 V162.70" stroke="#444" stroke-width="1.1"/>
<text transform="translate(650.70,172.65) scale(1,1.09)" font-size="7.6" text-anchor="middle" font-family="Liberation Sans, sans-serif" fill="#000" stroke="#000" stroke-width="0.2">3000</text>
<path d="M510.60,160.20 L511.42,154.68 L512.24,149.42 L513.06,144.40 L513.88,139.62 L514.69,135.06 L515.51,130.71 L516.33,126.56 L517.15,122.61 L517.97,118.84 L518.79,115.25 L519.61,111.82 L520.43,108.55 L521.24,105.44 L522.06,102.47 L522.88,99.63 L523.70,96.93 L524.52,94.36 L525.34,91.90 L526.16,89.56 L526.98,87.33 L527.80,85.20 L528.61,83.17 L529.43,81.24 L530.25,79.39 L531.07,77.64 L531.89,75.96 L532.71,74.36 L533.53,72.84 L534.35,71.38 L535.17,70.00 L535.98,68.68 L536.80,67.42 L537.62,66.21 L538.44,65.07 L539.26,63.98 L540.08,62.93 L540.90,61.94 L541.72,61.00 L542.53,60.09 L543.35,59.23 L544.17,58.41 L544.99,57.63 L545.81,56.88 L546.63,56.17 L547.45,55.49 L548.27,54.85 L549.09,54.23 L549.90,53.64 L550.72,53.08 L551.54,52.55 L552.36,52.04 L553.18,51.55 L554.00,51.09 L554.82,50.65 L555.64,50.23 L556.46,49.83 L557.27,49.44 L558.09,49.08 L558.91,48.73 L559.73,48.40 L560.55,48.08 L561.37,47.78 L562.19,47.49 L563.01,47.22 L563.82,46.96 L564.64,46.71 L565.46,46.47 L566.28,46.24 L567.10,46.03 L567.92,45.82 L568.74,45.62 L569.56,45.44 L570.38,45.26 L571.19,45.09 L572.01,44.92 L572.83,44.77 L573.65,44.62 L574.47,44.48 L575.29,44.35 L576.11,44.22 L576.93,44.10 L577.75,43.98 L578.56,43.87 L579.38,43.76 L580.20,43.66 L581.02,43.57 L581.84,43.48 L582.66,43.39 L583.48,43.30 L584.30,43.23 L585.11,43.15 L585.93,43.08 L586.75,43.01 L587.57,42.94 L588.39,42.88 L589.21,42.82 L590.03,42.76 L590.85,42.71 L591.67,42.66 L592.48,42.61 L593.30,42.56 L594.12,42.52 L594.94,42.47 L595.76,42.43 L596.58,42.39 L597.40,42.36 L598.22,42.32 L599.04,42.29 L599.85,42.26 L600.67,42.22 L601.49,42.20 L602.31,42.17 L603.13,42.14 L603.95,42.12 L604.77,42.09 L605.59,42.07 L606.40,42.05 L607.22,42.03 L608.04,42.01 L608.86,41.99 L609.68,41.97 L610.50,41.95 L611.32,41.94 L612.14,41.92 L612.96,41.90 L613.77,41.89 L614.59,41.88 L615.41,41.86 L616.23,41.85 L617.05,41.84 L617.87,41.83 L618.69,41.82 L619.51,41.81 L620.33,41.80 L621.14,41.79 L621.96,41.78 L622.78,41.77 L623.60,41.76 L624.42,41.75 L625.24,41.75 L626.06,41.74 L626.88,41.73 L627.69,41.73 L628.51,41.72 L629.33,41.72 L630.15,41.71 L630.97,41.70 L631.79,41.70 L632.61,41.69 L633.43,41.69 L634.25,41.69 L635.06,41.68 L635.88,41.68 L636.70,41.67 L637.52,41.67 L638.34,41.67 L639.16,41.66 L639.98,41.66 L640.80,41.66 L641.62,41.66 L642.43,41.65 L643.25,41.65 L644.07,41.65 L644.89,41.64 L645.71,41.64 L646.53,41.64 L647.35,41.64 L648.17,41.64 L648.98,41.63 L649.80,41.63 L650.62,41.63 L651.44,41.63 L652.26,41.63 L653.08,41.63 L653.90,41.63 L654.72,41.62 L655.54,41.62 L656.35,41.62 L657.17,41.62 L657.99,41.62 L658.81,41.62 L659.63,41.62 L660.45,41.62 L661.27,41.62 L662.09,41.61 L662.91,41.61 L663.72,41.61 L664.54,41.61 L665.36,41.61 L666.18,41.61 L667.00,41.61 L667.82,41.61 L668.64,41.61 L669.46,41.61 L670.27,41.61 L671.09,41.61 L671.91,41.61 L672.73,41.61 L673.55,41.61" fill="none" stroke="#000" stroke-width="1.15"/>
<path d="M513.90,84.02 H527.89" stroke="#111" stroke-width="1.1" stroke-dasharray="0.75,0.72"/>
<path d="M527.89,84.02 V156.70" stroke="#111" stroke-width="1.1" stroke-dasharray="0.75,0.72"/>
<path d="M527.89,160.40 l-2.0,-3.8 h4.0 z" fill="#222"/>
<circle cx="510.60" cy="159.39" r="2.75" fill="#000"/>
<circle cx="511.60" cy="151.62" r="2.75" fill="#000"/>
<circle cx="512.60" cy="144.80" r="2.75" fill="#000"/>
<circle cx="514.60" cy="132.79" r="2.75" fill="#000"/>
<circle cx="520.59" cy="106.71" r="2.75" fill="#000"/>
<circle cx="530.59" cy="81.02" r="2.75" fill="#000"/>
<circle cx="550.58" cy="57.09" r="2.75" fill="#000"/>
<circle cx="590.55" cy="42.31" r="2.75" fill="#000"/>
<circle cx="670.50" cy="37.31" r="2.75" fill="#000"/>
<circle cx="510.60" cy="84.02" r="2.9" fill="#fff" stroke="#000" stroke-width="1.2"/>
<text x="530.10" y="151.40" font-size="11.4" font-family="Liberation Sans, sans-serif" fill="#0a0a0a">D<tspan font-size="8.8" dy="1.3">e</tspan></text>
<text x="590.50" y="185.20" font-size="11.7" text-anchor="middle" font-family="Liberation Sans, sans-serif" fill="#0a0a0a">Dose (Gy)</text>
<text transform="translate(487.70,82.70) rotate(-90)" font-size="11.65" text-anchor="middle" font-family="Liberation Sans, sans-serif" fill="#0a0a0a">Normalized OSL intensity</text>
<circle cx="591.30" cy="130.70" r="1.95" fill="#fff" stroke="#000" stroke-width="0.9"/>
<circle cx="591.30" cy="148.40" r="2.5" fill="#000"/>
<text x="597.90" y="134.10" font-size="11.7" font-family="Liberation Sans, sans-serif" fill="#0a0a0a">L<tspan font-size="8.8" dy="0.9">1</tspan><tspan dy="-0.9">/T</tspan><tspan font-size="8.8" dy="0.9">1</tspan><tspan dy="-0.9">(Natural)</tspan></text>
<text x="597.90" y="151.90" font-size="11.7" font-family="Liberation Sans, sans-serif" fill="#0a0a0a">L<tspan font-size="8.8" dy="0.9">x</tspan><tspan dy="-0.9">/T</tspan><tspan font-size="8.8" dy="0.9">x</tspan></text>
</g>
</svg></body></html>
